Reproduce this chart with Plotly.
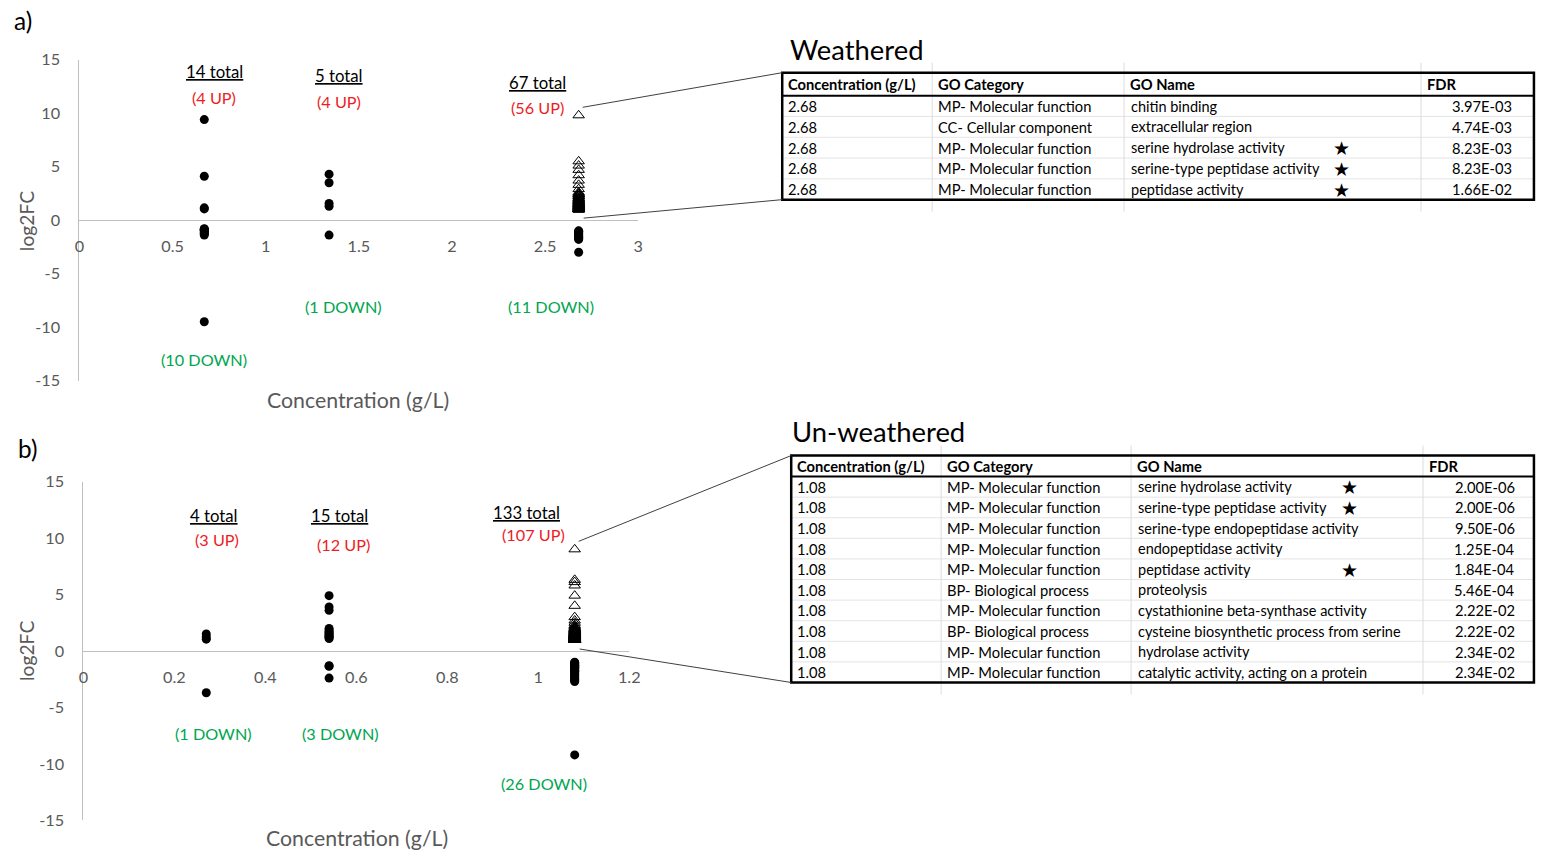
import plotly.graph_objects as go

# ---------------- data ----------------
conc_a = [0.67, 1.34, 2.68]
conc_b = [0.27, 0.54, 1.08]

# Weathered (a) log2FC values per concentration
a1_up = [9.4, 4.1, 1.15, 1.05]
a1_down = [-0.8, -0.85, -0.9, -0.95, -1.0, -1.1, -1.2, -1.3, -1.4, -9.5]
a2_up = [4.3, 3.5, 1.55, 1.3]
a2_down = [-1.4]
a3_up = [9.8, 5.5, 5.1, 4.7, 4.2, 3.7, 3.3, 2.9,
         2.6, 2.5, 2.45, 2.4, 2.3, 2.25, 2.2, 2.1, 2.05, 2.0,
         1.95, 1.9, 1.85, 1.8, 1.78, 1.75, 1.7, 1.66, 1.62, 1.6,
         1.56, 1.52, 1.5, 1.47, 1.44, 1.4, 1.38, 1.35, 1.32, 1.3,
         1.27, 1.25, 1.22, 1.2, 1.18, 1.15, 1.13, 1.1, 1.08, 1.06,
         1.05, 1.04, 1.03, 1.02, 1.01, 1.0, 1.0, 1.0]
a3_down = [-1.0, -1.05, -1.1, -1.2, -1.3, -1.4, -1.5, -1.6, -1.7, -1.8, -3.0]

# Un-weathered (b)
b1_up = [1.5, 1.25, 1.05]
b1_down = [-3.7]
b2_up = [4.9, 3.9, 3.6, 2.0, 1.85, 1.7, 1.6, 1.5, 1.4, 1.3, 1.2, 1.1]
b2_down = [-1.3, -1.35, -2.4]
b3_up = [9.0, 6.3, 6.1, 5.8, 4.9, 4.0, 3.0, 2.7, 2.5,
         2.3, 2.2, 2.1, 2.05, 2.0, 1.98, 1.95, 1.92, 1.9, 1.88,
         1.85, 1.83, 1.8, 1.78, 1.76, 1.74, 1.72, 1.7, 1.68, 1.66,
         1.64, 1.62, 1.6, 1.59, 1.58, 1.56, 1.55, 1.54, 1.52, 1.5,
         1.49, 1.48, 1.46, 1.45, 1.44, 1.42, 1.41, 1.4, 1.39, 1.38,
         1.37, 1.36, 1.35, 1.34, 1.33, 1.32, 1.31, 1.3, 1.29, 1.28,
         1.27, 1.26, 1.25, 1.24, 1.23, 1.22, 1.21, 1.2, 1.19, 1.18,
         1.17, 1.16, 1.15, 1.14, 1.13, 1.12, 1.11, 1.1, 1.09, 1.08,
         1.08, 1.07, 1.07, 1.06, 1.06, 1.05, 1.05, 1.04, 1.04, 1.03,
         1.03, 1.03, 1.02, 1.02, 1.02, 1.01, 1.01, 1.01, 1.01, 1.0,
         1.0, 1.0, 1.0, 1.0, 1.0, 1.0, 1.0, 1.0]
b3_down = [-1.0, -1.05, -1.1, -1.15, -1.2, -1.25, -1.3, -1.35, -1.4, -1.5,
           -1.55, -1.6, -1.7, -1.75, -1.8, -1.9, -2.0, -2.1, -2.2, -2.3,
           -2.4, -2.5, -2.6, -2.7, -1.45, -9.2]

y_ticks = [-15, -10, -5, 0, 5, 10, 15]
xa_ticks = [0, 0.5, 1, 1.5, 2, 2.5, 3]
xb_ticks = [0, 0.2, 0.4, 0.6, 0.8, 1, 1.2]

# Tables
tbl_header = ["Concentration (g/L)", "GO Category", "GO Name", "FDR"]
wa_conc = ["2.68", "2.68", "2.68", "2.68", "2.68"]
wa_cat = ["MP- Molecular function", "CC- Cellular component", "MP- Molecular function",
          "MP- Molecular function", "MP- Molecular function"]
wa_name = ["chitin binding", "extracellular region", "serine hydrolase activity",
           "serine-type peptidase activity", "peptidase activity"]
wa_fdr = ["3.97E-03", "4.74E-03", "8.23E-03", "8.23E-03", "1.66E-02"]
wa_star = [False, False, True, True, True]

uw_conc = ["1.08"] * 10
uw_cat = ["MP- Molecular function", "MP- Molecular function", "MP- Molecular function",
          "MP- Molecular function", "MP- Molecular function", "BP- Biological process",
          "MP- Molecular function", "BP- Biological process", "MP- Molecular function",
          "MP- Molecular function"]
uw_name = ["serine hydrolase activity", "serine-type peptidase activity",
           "serine-type endopeptidase activity", "endopeptidase activity",
           "peptidase activity", "proteolysis", "cystathionine beta-synthase activity",
           "cysteine biosynthetic process from serine", "hydrolase activity",
           "catalytic activity, acting on a protein"]
uw_fdr = ["2.00E-06", "2.00E-06", "9.50E-06", "1.25E-04", "1.84E-04", "5.46E-04",
          "2.22E-02", "2.22E-02", "2.34E-02", "2.34E-02"]
uw_star = [True, True, False, False, True, False, False, False, False, False]

# ---------------- layout helpers ----------------
# Positions are given in target-picture pixels and mapped to paper fractions,
# with a small calibration for how the page is captured.
W, H = 1544, 852
SX, OX = 0.99, 1.5
SY, OY = 0.978, 9.3
FS = 1.015
FONT = "Lato"
GREY_TXT = "#595959"
AXIS_LINE = "#bfbfbf"
RED = "#ee1c25"
GREEN = "#00a650"


def px(x):
    return ((x - OX) / SX) / W


def py(y):
    return 1 - ((y - OY) / SY) / H


PA = dict(x0=76, x1=635, y0=59, y1=380, xr=[0, 3])
PB = dict(x0=80, x1=626, y0=481, y1=820, xr=[0, 1.2])


def to_px(p, x, y):
    X = p["x0"] + (x - p["xr"][0]) / (p["xr"][1] - p["xr"][0]) * (p["x1"] - p["x0"])
    Y = p["y1"] - (y + 15) / 30 * (p["y1"] - p["y0"])
    return X, Y


fig = go.Figure()

circ = dict(symbol="circle", size=9, color="black")
tri = dict(symbol="triangle-up-open", size=10, color="black", line=dict(width=1, color="black"))


def add_panel(conc, groups_circ, up3, xa, ya):
    xs, ys = [], []
    for c, vals in zip(conc, groups_circ):
        xs += [c] * len(vals)
        ys += vals
    fig.add_trace(go.Scatter(x=xs, y=ys, mode="markers", marker=circ,
                             xaxis=xa, yaxis=ya, showlegend=False, hoverinfo="x+y"))
    fig.add_trace(go.Scatter(x=[conc[2]] * len(up3), y=up3, mode="markers", marker=tri,
                             xaxis=xa, yaxis=ya, showlegend=False, hoverinfo="x+y"))


add_panel(conc_a, [a1_up + a1_down, a2_up + a2_down, a3_down], a3_up, "x", "y")
add_panel(conc_b, [b1_up + b1_down, b2_up + b2_down, b3_down], b3_up, "x2", "y2")


def fmt(v):
    return "%g" % v


def xaxis_for(p, ticks):
    yd = [py(p["y1"]), py(p["y0"])]
    return dict(domain=[px(p["x0"]), px(p["x1"])], range=p["xr"],
                tickvals=ticks, ticktext=[fmt(t) for t in ticks],
                anchor="free", position=(yd[0] + yd[1]) / 2, showline=True,
                linecolor=AXIS_LINE, linewidth=1.3, showgrid=False, zeroline=False,
                ticks="outside", ticklen=11, tickcolor="rgba(0,0,0,0)",
                tickfont=dict(family=FONT, size=16 * FS, color=GREY_TXT))


def yaxis_for(p, xname):
    return dict(domain=[py(p["y1"]), py(p["y0"])], range=[-15, 15],
                tickvals=y_ticks, ticktext=[fmt(t) for t in y_ticks],
                anchor=xname, showline=True, linecolor=AXIS_LINE, linewidth=1.3,
                showgrid=False, zeroline=False, ticks="outside", ticklen=15,
                tickcolor="rgba(0,0,0,0)",
                tickfont=dict(family=FONT, size=16 * FS, color=GREY_TXT))


annotations = []
shapes = []


def txt(x, y, s, size=16, color="black", xanchor="center", **kw):
    annotations.append(dict(x=px(x), y=py(y), xref="paper", yref="paper", text=s,
                            showarrow=False, xanchor=xanchor, yanchor="middle",
                            font=dict(family=FONT, size=size * FS, color=color), **kw))


def line(x0, y0, x1, y1, color, width):
    shapes.append(dict(type="line", xref="paper", yref="paper", x0=px(x0), y0=py(y0),
                       x1=px(x1), y1=py(y1), line=dict(color=color, width=width)))


# panel labels and axis titles
txt(20, 20, "a)", size=24)
txt(24, 448, "b)", size=24)
for cy in (220, 650):
    txt(23, cy, "log2FC", size=19, color=GREY_TXT, textangle=-90)
txt(355, 399, "Concentration (g/L)", size=21, color=GREY_TXT)
txt(354, 838, "Concentration (g/L)", size=21, color=GREY_TXT)

# count labels (text derived from data)
cnt_a = [(a1_up, a1_down), (a2_up, a2_down), (a3_up, a3_down)]
cnt_b = [(b1_up, b1_down), (b2_up, b2_down), (b3_up, b3_down)]
pos_a = [((211, 71), (211, 97), (201, 359)),
         ((336, 75), (336, 101), (340, 306)),
         ((534, 82), (534, 107), (548, 306))]
pos_b = [((211, 515), (214, 539), (210, 733)),
         ((336, 515), (340, 544), (337, 733)),
         ((523, 512), (530, 534), (541, 783))]
for cnts, poss in [(cnt_a, pos_a), (cnt_b, pos_b)]:
    for (up, dn), (pt, pu, pd) in zip(cnts, poss):
        txt(pt[0], pt[1], "<u>%d total</u>" % (len(up) + len(dn)), size=16.5)
        txt(pu[0], pu[1], "(%d UP)" % len(up), size=16, color=RED)
        txt(pd[0], pd[1], "(%d DOWN)" % len(dn), size=16, color=GREEN)


# ---------------- tables (drawn from the lists) ----------------
def add_table(title, tx, ty, cols, x1, top, hh, rh, fdr_right, conc, cat, name, fdr,
              stars, star_x):
    n = len(conc)
    bottom = top + hh + rh * n
    x0 = cols[0]
    txt(tx, ty, title, size=27, xanchor="left")
    for i in range(1, n):
        yy = top + hh + rh * i
        line(x0, yy, x1, yy, "#e4e4e4", 1)
    for cx in cols[1:]:
        line(cx, top - 10, cx, bottom + 12, "#dcdcdc", 1)
    hy = top + hh / 2
    for j, h in enumerate(tbl_header):
        txt(cols[j] + 4, hy, "<b>%s</b>" % h, size=14.5, xanchor="left")
    for i in range(n):
        cy = top + hh + rh * (i + 0.5)
        txt(cols[0] + 4, cy, conc[i], size=14.5, xanchor="left")
        txt(cols[1] + 4, cy, cat[i], size=14.5, xanchor="left")
        txt(cols[2] + 5, cy, name[i], size=14.3, xanchor="left")
        txt(fdr_right, cy, fdr[i], size=14.5, xanchor="right")
        if stars[i]:
            txt(star_x, cy, "\u2605", size=19)
    shapes.append(dict(type="rect", xref="paper", yref="paper", x0=px(x0), x1=px(x1),
                       y0=py(bottom), y1=py(top), line=dict(color="black", width=2.5)))
    line(x0, top + hh, x1, top + hh, "black", 2)
    return bottom


bot_a = add_table("Weathered", 785, 49, [779, 929, 1121, 1418], 1531, 72, 23, 20.8, 1511,
                  wa_conc, wa_cat, wa_name, wa_fdr, wa_star, 1338)
bot_b = add_table("Un-weathered", 787, 431, [788, 938, 1128, 1420], 1531, 455, 21, 20.6, 1514,
                  uw_conc, uw_cat, uw_name, uw_fdr, uw_star, 1346)

# connector lines from the highest up-point / zero line to the table corners
for p, up3, c3, tx0, ttop, tbot in [(PA, a3_up, conc_a[2], 779, 72, bot_a),
                                    (PB, b3_up, conc_b[2], 788, 455, bot_b)]:
    X, Y = to_px(p, c3, max(up3))
    line(X + 4, Y - 8, tx0, ttop, "#404040", 1)
    X2, Y2 = to_px(p, c3, 0)
    line(X2 + 5, Y2 - 2, tx0, tbot, "#404040", 1)

fig.update_layout(
    autosize=True, margin=dict(l=0, r=0, t=0, b=0),
    paper_bgcolor="white", plot_bgcolor="white",
    xaxis=xaxis_for(PA, xa_ticks), yaxis=yaxis_for(PA, "x"),
    xaxis2=xaxis_for(PB, xb_ticks), yaxis2=yaxis_for(PB, "x2"),
    annotations=annotations, shapes=shapes,
    font=dict(family=FONT),
)

fig.write_html("out.html", config={"displayModeBar": False, "responsive": True},
               default_width="100vw", default_height="100vh",
               post_script="document.body.style.margin='0';document.body.style.overflow='hidden';")
